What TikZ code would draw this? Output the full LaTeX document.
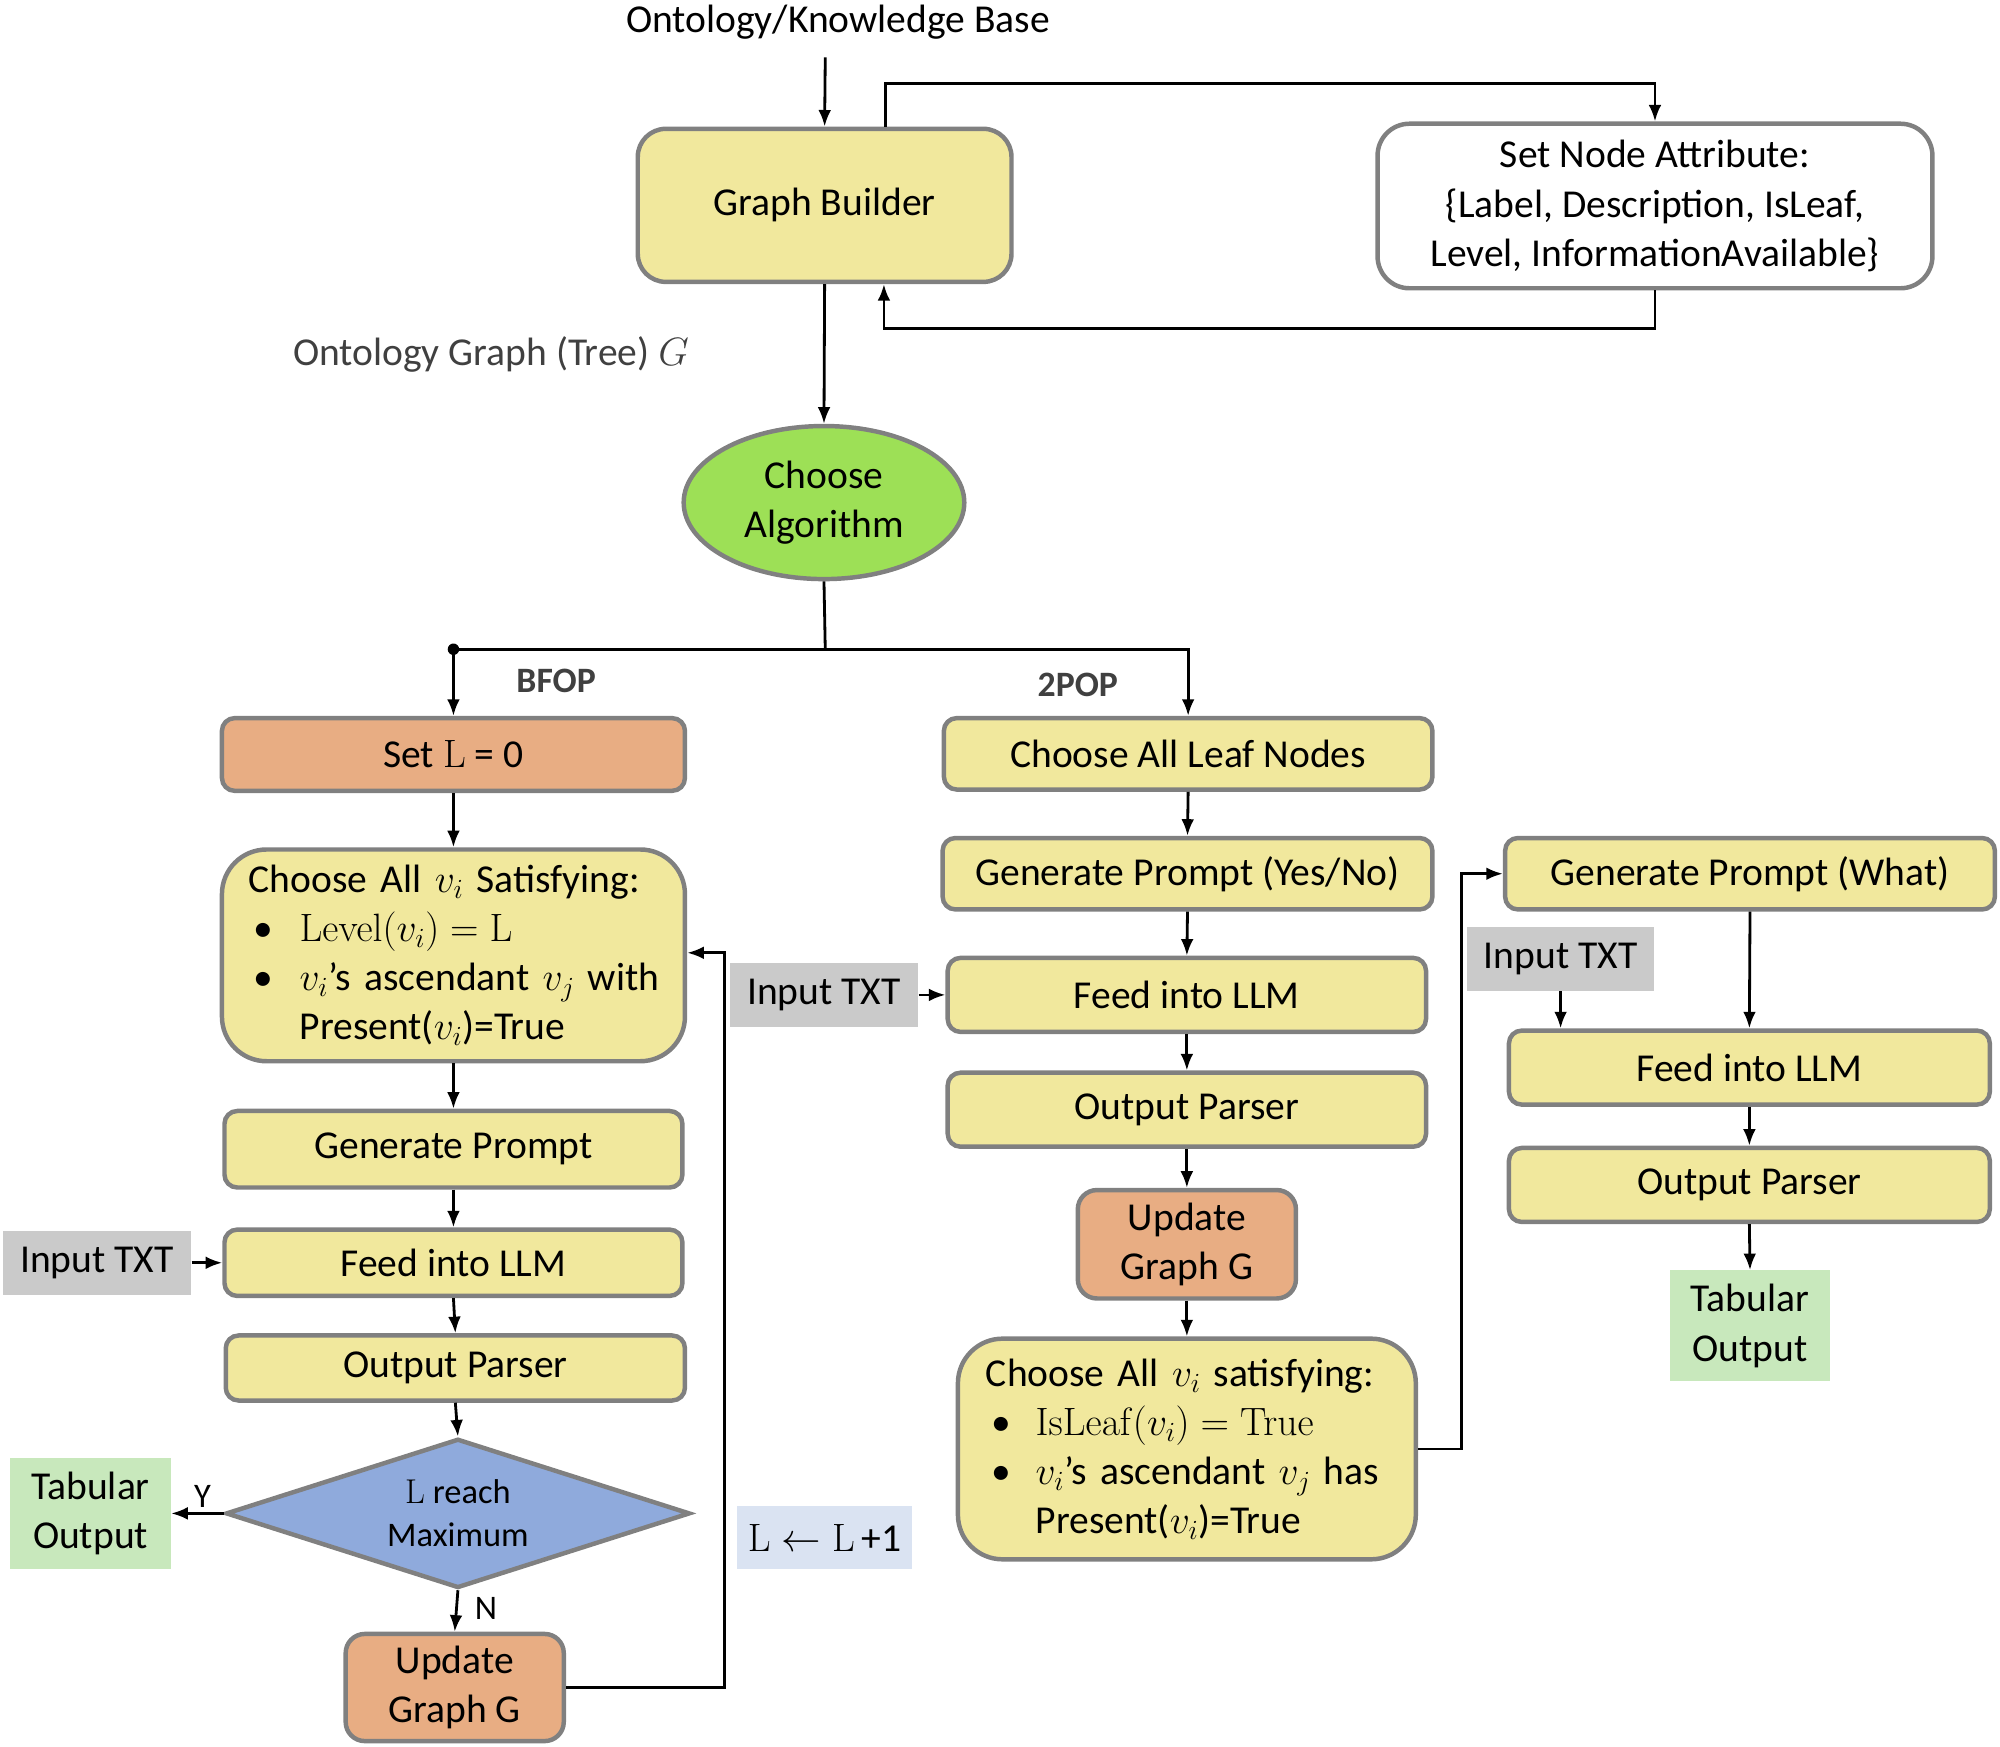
\documentclass[tikz,border=0pt]{standalone}
\usepackage{fix-cm}
\usepackage[no-math]{fontspec}
\setmainfont{Carlito}
\usetikzlibrary{shapes.geometric,arrows.meta,calc}
\definecolor{yel}{RGB}{241,232,157}
\definecolor{org}{RGB}{232,173,131}
\definecolor{grn}{RGB}{157,224,86}
\definecolor{bgray}{RGB}{128,128,128}
\definecolor{dia}{RGB}{143,170,220}
\definecolor{tabg}{RGB}{200,232,188}
\definecolor{lblue}{RGB}{218,227,242}
\definecolor{ingray}{RGB}{202,202,202}
\definecolor{dtext}{RGB}{64,64,64}
\newcommand{\fsz}{\fontsize{31}{38.5}\selectfont}
\newcommand{\fsm}{\fontsize{27}{34}\selectfont}
\begin{document}
\begin{tikzpicture}[x=1pt,y=-1pt,
  base/.style={draw=bgray,line width=3.5pt,inner sep=0pt,align=center,font=\fsz,text=black},
  ybox/.style={base,rectangle,rounded corners=10pt,fill=yel},
  obox/.style={base,rectangle,rounded corners=10pt,fill=org},
  flat/.style={rectangle,inner sep=0pt,align=center,font=\fsz},
  arr/.style={line width=2.2pt,-{Latex[length=13pt,width=10pt]}},
  ln/.style={line width=2.2pt}]
\useasboundingbox (0,0) rectangle (1568,1369.6);

% top
\node[font=\fsz] (kb) at (657,17) {Ontology/Knowledge Base};
\coordinate (kbend) at (647,45);
\node[ybox,rounded corners=22pt,minimum width=293pt,minimum height=120pt] (gb) at (646.5,161) {Graph Builder};
\node[base,rectangle,rounded corners=25pt,fill=white,minimum width=435pt,minimum height=129pt] (sna) at (1297.5,161.5) {Set Node Attribute:\\ \{Label, Description, IsLeaf,\\ Level, InformationAvailable\}};
\node[font=\fsz,text=dtext] (ogt) at (385,278) {Ontology Graph (Tree) $G$};
\node[base,ellipse,fill=grn,minimum width=220pt,minimum height=120pt] (alg) at (646,394) {Choose\\ Algorithm};

\draw[arr] (kbend) -- (gb.north);
\draw[arr] ([xshift=47.5pt]gb.north) -- ++(0,-34) -| (sna.north);
\draw[arr] (sna.south) -- ++(0,30) -| ([xshift=46.5pt]gb.south);
\draw[arr] (gb.south) -- (alg.north);

% split
\coordinate (split) at (647,509);
\draw[ln] (alg.south) -- (split);
\node[font=\fontsize{28}{34}\selectfont\bfseries,text=dtext] (bfop) at (436,534) {BFOP};
\node[font=\fontsize{28}{34}\selectfont\bfseries,text=dtext] (tpop) at (845,537) {2POP};

% left column
\node[obox,minimum width=363pt,minimum height=57pt] (setl) at (355.5,591.5) {Set $\mathrm{L}$ = 0};
\node[ybox,rounded corners=35pt,minimum width=363pt,minimum height=166pt,text width=321pt,inner xsep=21pt,align=left] (chl) at (355.5,749)
 {\mbox{Choose All $v_i$ Satisfying:}\\
  \mbox{\makebox[40pt][l]{\hspace{4pt}\textbullet}$\mathrm{Level}(v_i)=\mathrm{L}$}\\
  \mbox{\makebox[40pt][l]{\hspace{4pt}\textbullet}$v_i$’s ascendant $v_j$ with}\\
  \mbox{\hspace*{40pt}Present($v_i$)=True}};
\node[ybox,minimum width=359pt,minimum height=60pt] (gp) at (355.5,901) {Generate Prompt};
\node[ybox,minimum width=359pt,minimum height=52pt] (feedL) at (355.5,990) {Feed into LLM};
\node[flat,fill=ingray,minimum width=148pt,minimum height=50pt] (inL) at (76,990) {Input TXT};
\node[ybox,minimum width=360pt,minimum height=51pt] (opL) at (357,1072.5) {Output Parser};
\node[base,diamond,fill=dia,aspect=3.1,minimum width=364pt,minimum height=117pt,font=\fsm] (dm) at (359,1186.5) {$\mathrm{L}$ reach\\ Maximum};
\node[flat,fill=tabg,minimum width=126pt,minimum height=87pt] (tabL) at (71,1186.5) {Tabular\\ Output};
\node[obox,rounded corners=15pt,minimum width=171pt,minimum height=84pt] (updL) at (356.5,1323) {Update\\ Graph G};
\node[flat,fill=lblue,minimum width=137pt,minimum height=49pt] (lll) at (646.5,1205.5) {$\mathrm{L}\leftarrow\mathrm{L}$\,+1};
\coordinate (loopx) at (568,747);

\draw[arr] (split) -| (setl.north);
\fill (setl.north |- split) circle (4.5pt);
\draw[arr] (setl.south) -- (chl.north);
\draw[arr] (chl.south) -- (gp.north);
\draw[arr] (gp.south) -- (feedL.north);
\draw[arr] (inL.east) -- (feedL.west);
\draw[arr] (feedL.south) -- (opL.north);
\draw[arr] (opL.south) -- (dm.north);
\draw[arr] (dm.west) -- node[above,font=\fsm,pos=0.4] (ylab) {Y} (tabL.east);
\draw[arr] (dm.south) -- node[right,font=\fsm,pos=0.45,xshift=10pt] (nlab) {N} (updL.north);
\draw[arr] (updL.east) -| (loopx) -- (chl.east |- loopx);

% middle column
\node[ybox,minimum width=383pt,minimum height=56pt] (cln) at (931.5,591) {Choose All Leaf Nodes};
\node[ybox,minimum width=384pt,minimum height=56pt] (gpyn) at (931,685) {Generate Prompt (Yes/No)};
\node[ybox,minimum width=375pt,minimum height=58pt] (feedM) at (930.5,780) {Feed into LLM};
\node[flat,fill=ingray,minimum width=148pt,minimum height=50pt] (inM) at (646,780) {Input TXT};
\node[ybox,minimum width=375pt,minimum height=58pt] (opM) at (930.5,870) {Output Parser};
\node[obox,rounded corners=15pt,minimum width=171pt,minimum height=85pt] (updM) at (930.5,975.5) {Update\\ Graph G};
\node[ybox,rounded corners=35pt,minimum width=359pt,minimum height=173pt,text width=315pt,inner xsep=22pt,align=left] (chr) at (930.5,1136)
 {\mbox{Choose All $v_i$ satisfying:}\\
  \mbox{\makebox[39pt][l]{\hspace{4pt}\textbullet}$\mathrm{IsLeaf}(v_i)=\mathrm{True}$}\\
  \mbox{\makebox[39pt][l]{\hspace{4pt}\textbullet}$v_i$’s ascendant $v_j$ has}\\
  \mbox{\hspace*{39pt}Present($v_i$)=True}};

\draw[arr] (split) -| (cln.north);
\draw[arr] (cln.south) -- (gpyn.north);
\draw[arr] (gpyn.south) -- (feedM.north);
\draw[arr] (inM.east) -- (feedM.west);
\draw[arr] (feedM.south) -- (opM.north);
\draw[arr] (opM.south) -- (updM.north);
\draw[arr] (updM.south) -- (chr.north);

% right column
\node[ybox,minimum width=384pt,minimum height=56pt] (gpw) at (1372,685) {Generate Prompt (What)};
\node[flat,fill=ingray,minimum width=147pt,minimum height=50pt] (inR) at (1223.5,752) {Input TXT};
\node[ybox,minimum width=377pt,minimum height=58pt] (feedR) at (1371.5,837) {Feed into LLM};
\node[ybox,minimum width=377pt,minimum height=58pt] (opR) at (1371.5,929) {Output Parser};
\node[flat,fill=tabg,minimum width=126pt,minimum height=87pt] (tabR) at (1372,1039.5) {Tabular\\ Output};

\draw[arr] (chr.east) -- ++(34,0) |- (gpw.west);
\draw[arr] (gpw.south) -- (feedR.north);
\draw[arr] (inR.south) -- (inR.south |- feedR.north);
\draw[arr] (feedR.south) -- (opR.north);
\draw[arr] (opR.south) -- (tabR.north);
\end{tikzpicture}
\end{document}
